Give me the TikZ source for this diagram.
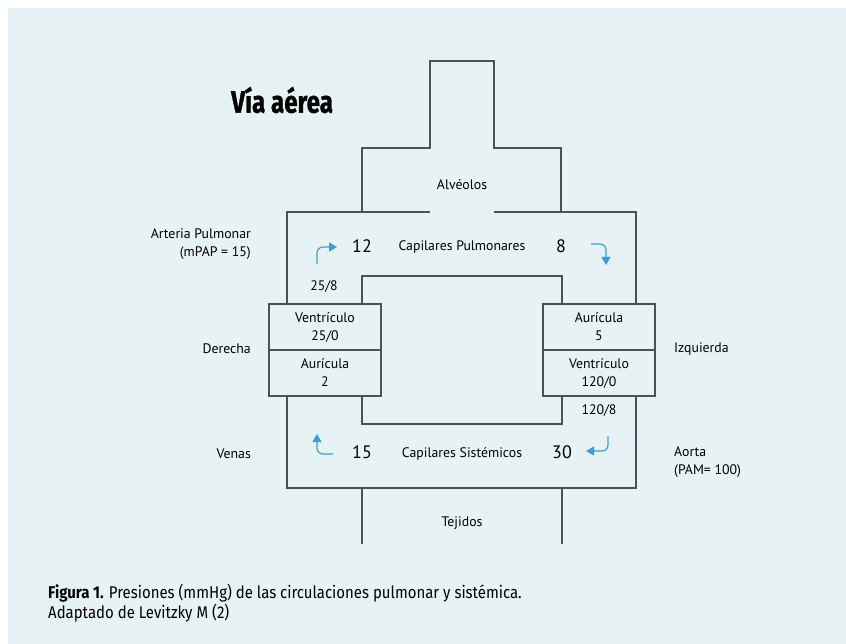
\documentclass[tikz,border=0pt]{standalone}
\usepackage{fontspec}
\setmainfont{PT Sans}
\newfontfamily\capfont{Fira Sans}
\newfontfamily\titlefont{Fira Sans}[FakeBold=1.2]
\usetikzlibrary{arrows.meta}
\definecolor{bg}{HTML}{E6F2F3}
\definecolor{ln}{HTML}{505050}
\definecolor{arr}{HTML}{3A9FE0}
\tikzset{
  wall/.style={draw=ln, line width=1.3pt},
  chamber/.style={draw=ln, line width=1.3pt, minimum width=112pt, minimum height=46pt, inner sep=0pt, align=center, font=\fontsize{13.8}{18}\selectfont},
  lbl/.style={font=\fontsize{13.8}{18}\selectfont, inner sep=0pt},
  num/.style={font=\fontsize{18}{20}\selectfont, inner sep=0pt},
  flow/.style={draw=arr, line width=1.2pt, rounded corners=6pt, -{Triangle[length=8pt,width=9pt]}}
}
\begin{document}
\begin{tikzpicture}[x=1pt,y=-1pt]
\useasboundingbox (0,0) rectangle (846,644);
\fill[bg] (8,8) rectangle (846,644);
% title
\node[inner sep=0pt, anchor=west] (title) at (231,100) {\scalebox{0.78}[1]{\titlefont\fontsize{31}{34}\selectfont\bfseries Vía aérea}};
% chambers
\node[chamber] (vd) at (325,327) {Ventrículo\\25/0};
\node[chamber] (ad) at (325,373) {Aurícula\\2};
\node[chamber] (ai) at (599,327) {Aurícula\\5};
\node[chamber] (vi) at (599,373) {Ventrículo\\120/0};
% walls
\draw[wall] (287,304) -- (287,212) -- (430,212);
\draw[wall] (494,212) -- (636,212) -- (636,304);
\draw[wall] (362,212) -- (362,148) -- (430,148) -- (430,61) -- (494,61) -- (494,148) -- (561,148) -- (561,212);
\draw[wall] (362,304) -- (362,276) -- (562,276) -- (562,304);
\draw[wall] (287,396) -- (287,488) -- (636,488) -- (636,396);
\draw[wall] (362,396) -- (362,424) -- (562,424) -- (562,396);
\draw[wall] (362,488) -- (362,544);
\draw[wall] (562,488) -- (562,544);
% flow arrows
\coordinate (a1s) at (317,264); \coordinate (a1c) at (317,247); \coordinate (a1e) at (337,247);
\draw[flow] (a1s) -- (a1c) -- (a1e);
\coordinate (a2s) at (591,244); \coordinate (a2c) at (606,244); \coordinate (a2e) at (606,265);
\draw[flow] (a2s) -- (a2c) -- (a2e);
\coordinate (a3s) at (333,454); \coordinate (a3c) at (317,454); \coordinate (a3e) at (317,434);
\draw[flow] (a3s) -- (a3c) -- (a3e);
\coordinate (a4s) at (608,436); \coordinate (a4c) at (608,451); \coordinate (a4e) at (586,451);
\draw[flow] (a4s) -- (a4c) -- (a4e);
% labels
\node[lbl] (alv) at (462,185) {Alvéolos};
\node[lbl] (cp) at (462,247) {Capilares Pulmonares};
\node[num] (n12) at (362,246) {12};
\node[num] (n8) at (561,246) {8};
\node[lbl] (p258) at (324,287) {25/8};
\node[lbl, anchor=east, align=right] (ap) at (251,244) {Arteria Pulmonar\\(mPAP = 15)};
\node[lbl, anchor=east] (der) at (251,349) {Derecha};
\node[lbl, anchor=west] (izq) at (674,349) {Izquierda};
\node[lbl] (p1208) at (599,411) {120/8};
\node[lbl, anchor=east] (ven) at (251,454) {Venas};
\node[num] (n15) at (362,452) {15};
\node[lbl] (cs) at (462,454) {Capilares Sistémicos};
\node[num] (n30) at (562,452) {30};
\node[lbl, anchor=west, align=left] (aor) at (674,462) {Aorta\\(PAM= 100)};
\node[lbl] (tej) at (462,523) {Tejidos};
% caption
\node[inner sep=0pt, anchor=west] (cap1) at (48,593) {\scalebox{0.88}[1]{\capfont\fontsize{17}{20}\selectfont\textbf{Figura 1.} Presiones (mmHg) de las circulaciones pulmonar y sistémica.}};
\node[inner sep=0pt, anchor=west] (cap2) at (48,613) {\scalebox{0.88}[1]{\capfont\fontsize{17}{20}\selectfont Adaptado de Levitzky M (2)}};
\end{tikzpicture}
\end{document}
